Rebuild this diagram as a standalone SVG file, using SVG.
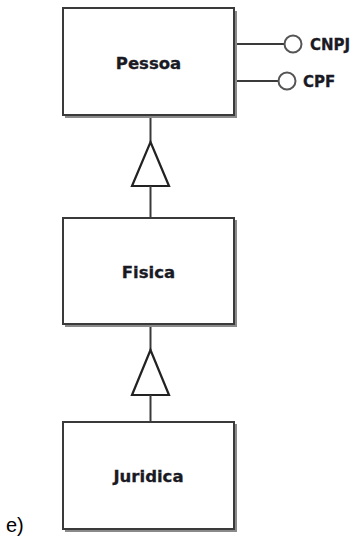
<svg xmlns="http://www.w3.org/2000/svg" width="357" height="544" viewBox="0 0 357 544">
<style>
.box{fill:#fff;stroke:#3a3a3a;stroke-width:2}
.shadow{fill:none;stroke:#8a8a8a;stroke-width:2}
.lbl{font-family:"DejaVu Sans",Verdana,sans-serif;font-weight:bold;font-size:16.5px;fill:#1a1a24;text-anchor:middle;stroke:#1a1a24;stroke-width:0.3}
.iface{font-family:"DejaVu Sans",Verdana,sans-serif;font-weight:bold;font-size:15px;fill:#1a1a24;stroke:#1a1a24;stroke-width:0.3}
.ln{stroke:#3a3a3a;stroke-width:2;fill:none}
.tri{fill:#fff;stroke:#222;stroke-width:2.2;stroke-linejoin:miter}
.lolli{fill:#fff;stroke:#555;stroke-width:2}
</style>
<rect width="357" height="544" fill="#fff"/>
<g id="connectors">
<line class="ln" x1="150.5" y1="115" x2="150.5" y2="142"/>
<polygon class="tri" points="150.5,142 169,186 132,186"/>
<line class="ln" x1="150.5" y1="186" x2="150.5" y2="218"/>
<line class="ln" x1="150.5" y1="324" x2="150.5" y2="350"/>
<polygon class="tri" points="150.5,350 169,395 132,395"/>
<line class="ln" x1="150.5" y1="395" x2="150.5" y2="422"/>
<line class="ln" x1="234" y1="44" x2="284" y2="44"/>
<line class="ln" x1="234" y1="81" x2="278" y2="81"/>
</g>
<g id="pessoa">
<polyline class="shadow" points="236,11 236,117 65,117"/>
<rect class="box" x="63" y="8" width="171" height="107"/>
<text class="lbl" x="148.5" y="69">Pessoa</text>
</g>
<g id="cnpj">
<circle class="lolli" cx="293" cy="44" r="8.5"/>
<text class="iface" x="310" y="49.5">CNPJ</text>
</g>
<g id="cpf">
<circle class="lolli" cx="287" cy="81" r="8.5"/>
<text class="iface" x="303" y="86.5">CPF</text>
</g>
<g id="fisica">
<polyline class="shadow" points="236,220 236,326 65,326"/>
<rect class="box" x="63" y="218" width="171" height="106"/>
<text class="lbl" x="148.5" y="278">Fisica</text>
</g>
<g id="juridica">
<polyline class="shadow" points="236,424 236,531 65,531"/>
<rect class="box" x="63" y="422" width="171" height="107"/>
<text class="lbl" x="148.5" y="482">Juridica</text>
</g>
<text x="6" y="532" font-family="Liberation Sans,Arial,sans-serif" font-size="20" fill="#000">e)</text>
</svg>
